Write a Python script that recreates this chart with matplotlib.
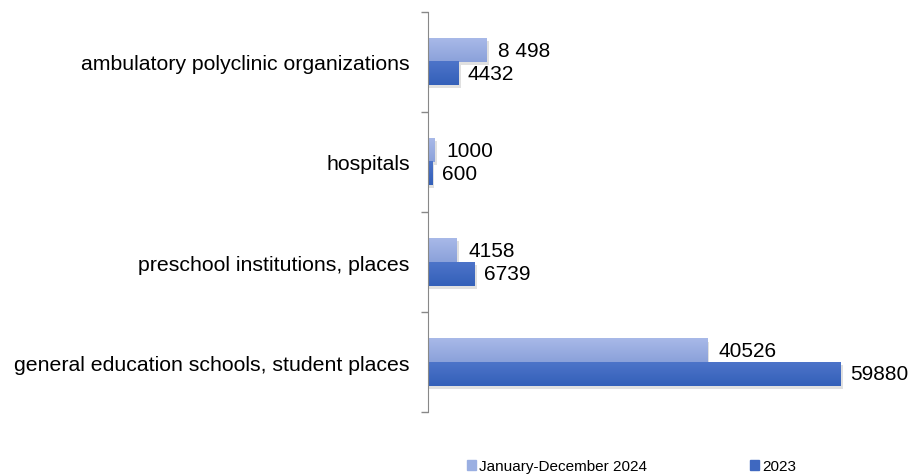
import numpy as np
import matplotlib
matplotlib.use("Agg")
import matplotlib.pyplot as plt
from matplotlib.patches import Rectangle
from matplotlib.colors import LinearSegmentedColormap

plt.rcParams["font.family"] = ["Liberation Sans", "DejaVu Sans"]

categories = [
    "ambulatory polyclinic organizations",
    "hospitals",
    "preschool institutions, places",
    "general education schools, student places",
]
series_names = ["January-December 2024", "2023"]
values_2024 = [8498, 1000, 4158, 40526]
values_2023 = [4432, 600, 6739, 59880]
labels_2024 = ["8 498", "1000", "4158", "40526"]
labels_2023 = ["4432", "600", "6739", "59880"]

colors_top = ["#a8b9e8", "#4d74c9"]
colors_bot = ["#8ba1da", "#3460b9"]
legend_colors = ["#9aafe2", "#3f68c0"]

fig = plt.figure(figsize=(9.14, 4.77), dpi=100)
ax = fig.add_axes([0.468, 0.134, 0.5276, 0.839])

y = np.arange(len(categories))
h = 0.235

bars_a = ax.barh(y - h / 2, values_2024, height=h, color="none")
bars_b = ax.barh(y + h / 2, values_2023, height=h, color="none")

# shadow + vertical gradient fill for each bar
grad = np.linspace(0, 1, 50).reshape(-1, 1)
for k, bars in enumerate([bars_a, bars_b]):
    cmap = LinearSegmentedColormap.from_list("g%d" % k, [colors_top[k], colors_bot[k]])
    for b in bars:
        x0, y0, w, hh = b.get_x(), b.get_y(), b.get_width(), b.get_height()
        sh = Rectangle((x0, y0 + 0.03), w + 350, hh, color="#000000", alpha=0.12,
                       lw=0, zorder=1)
        ax.add_patch(sh)
        ax.imshow(grad, extent=(x0, x0 + w, y0 + hh, y0), cmap=cmap, aspect="auto",
                  zorder=2, interpolation="bilinear")
ax.set_xlim(0, 70000)
ax.set_ylim(len(categories) - 0.5, -0.5)

for b, lab in zip(bars_a, labels_2024):
    ax.text(b.get_width() + 1700, b.get_y() + b.get_height() / 2, lab,
            va="center", ha="left", fontsize=15, color="#000000")
for b, lab in zip(bars_b, labels_2023):
    ax.text(b.get_width() + 1400, b.get_y() + b.get_height() / 2, lab,
            va="center", ha="left", fontsize=15, color="#000000")

# y axis: ticks on category boundaries, labels centered
ax.set_yticks(np.arange(len(categories) + 1) - 0.5)
ax.set_yticklabels([])
ax.set_yticks(y, minor=True)
ax.set_yticklabels(categories, minor=True, fontsize=15.3)
ax.tick_params(axis="y", which="major", length=5, color="#888888", width=1)
ax.tick_params(axis="y", which="minor", length=0, pad=13)
ax.set_xticks([])
for s in ["top", "right", "bottom"]:
    ax.spines[s].set_visible(False)
ax.spines["left"].set_color("#888888")

handles = [Rectangle((0, 0), 1, 1, color=c) for c in legend_colors]
fig.legend(handles, series_names, loc="center left", bbox_to_anchor=(0.496, 0.02),
           ncol=2, frameon=False, fontsize=11, handlelength=0.6, handleheight=0.6,
           handletextpad=0.2, columnspacing=6.7)

fig.savefig("out.png", dpi=100)
